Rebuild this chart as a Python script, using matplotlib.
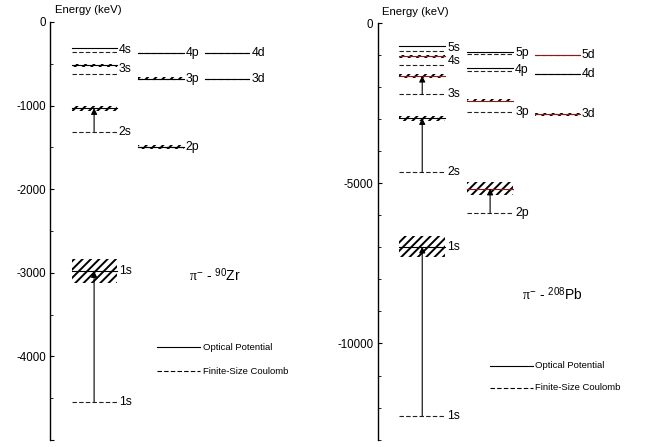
import matplotlib
matplotlib.use("Agg")
import matplotlib.pyplot as plt
from matplotlib.ticker import MultipleLocator, FuncFormatter

plt.rcParams['font.family'] = ['Liberation Sans', 'DejaVu Sans']
plt.rcParams['mathtext.fontset'] = 'custom'
plt.rcParams['mathtext.rm'] = 'Liberation Serif'
plt.rcParams['mathtext.sf'] = 'Liberation Sans'
plt.rcParams['mathtext.it'] = 'Liberation Serif:italic'
plt.rcParams['hatch.linewidth'] = 1.4

# pi- 90Zr levels (keV): finite-size Coulomb, optical potential, width
zr_states = ['1s', '2s', '3s', '4s', '2p', '3p', '4p', '3d', '4d']
zr_column = [0, 0, 0, 0, 1, 1, 1, 2, 2]
zr_fsc = [-4543, -1310, -617, -357, -1499, -677, -376, -677, -376]
zr_op = [-2980, -1030, -517, -316, -1499, -677, -376, -677, -376]
zr_width = [290, 58, 40, 0, 48, 40, 0, 0, 0]
zr_label = ['both', 'fsc', 'mid', 'mid', 'mid', 'mid', 'mid', 'mid', 'mid']
zr_arrows = ['1s', '2s']

# pi- 208Pb levels (keV)
pb_states = ['1s', '2s', '3s', '4s', '5s', '2p', '3p', '4p', '5p', '3d', '4d', '5d']
pb_column = [0, 0, 0, 0, 0, 1, 1, 1, 1, 2, 2, 2]
pb_fsc = [-12262, -4656, -2219, -1325, -866, -5937, -2763, -1510, -969, -2844, -1594, -1012]
pb_op = [-6981, -2969, -1647, -1043, -709, -5169, -2419, -1406, -906, -2844, -1594, -1012]
pb_width = [650, 165, 115, 100, 0, 415, 120, 0, 0, 90, 0, 0]
pb_label = ['both', 'fsc', 'fsc', 'mid', 'mid', 'fsc', 'fsc', 'mid', 'mid', 'mid', 'fsc', 'mid']
pb_arrows = ['1s', '2s', '3s', '2p']
pb_red = ['4s', '3s', '3p', '3d', '2p', '5d']

columns = [(0.77, 2.38), (3.16, 4.77), (5.55, 7.12)]
dash = (0, (4, 2))
red = '#8b1a1a'


def draw_levels(ax, states, column, fsc, op, width, label, arrows, red_states=()):
    for i, st in enumerate(states):
        x0, x1 = columns[column[i]]
        xc = 0.5 * (x0 + x1)
        ax.plot([x0, x1], [fsc[i], fsc[i]], color='#222222', lw=0.8, ls=dash)
        if width[i] > 0:
            lo = op[i] - width[i] / 2
            hi = op[i] + width[i] / 2
            ax.fill_between([x0, x1], [lo, lo], [hi, hi], facecolor='none',
                            edgecolor='black', hatch='////', linewidth=0)
        c = red if st in red_states else 'black'
        ax.plot([x0, x1], [op[i], op[i]], color=c, lw=0.8)
        if st in arrows:
            ax.annotate('', xy=(xc, op[i]), xytext=(xc, fsc[i]),
                        arrowprops=dict(arrowstyle='-|>', color='black', lw=0.8,
                                        mutation_scale=9, shrinkA=0, shrinkB=0))
        if label[i] == 'both':
            ys = [op[i], fsc[i]]
        elif label[i] == 'fsc':
            ys = [fsc[i]]
        else:
            ys = [0.5 * (op[i] + fsc[i])]
        for y in ys:
            ax.text(x1 + 0.08, y, st, fontsize=8.8, ha='left', va='center')


def draw_legend(ax, x0, x1, y_op, y_fsc):
    ax.plot([x0, x1], [y_op, y_op], color='black', lw=0.8)
    ax.plot([x0, x1], [y_fsc, y_fsc], color='black', lw=0.8, ls=dash)
    ax.text(x1 + 0.1, y_op, 'Optical Potential', fontsize=6.8, va='center')
    ax.text(x1 + 0.1, y_fsc, 'Finite-Size Coulomb', fontsize=6.8, va='center')


def style_axis(ax, major, minor, hide):
    ax.set_xlim(0, 10)
    for s in ['top', 'right', 'bottom']:
        ax.spines[s].set_visible(False)
    ax.spines['left'].set_linewidth(1.0)
    ax.set_xticks([])
    ax.yaxis.set_major_locator(MultipleLocator(major))
    ax.yaxis.set_minor_locator(MultipleLocator(minor))
    ax.yaxis.set_major_formatter(FuncFormatter(
        lambda v, p: '' if v in hide else '%d' % v))
    ax.tick_params(axis='y', which='major', direction='in', length=3, labelsize=8.3, pad=3)
    ax.tick_params(axis='y', which='minor', direction='in', length=2)
    ax.patch.set_visible(False)


fig = plt.figure(figsize=(6.62, 4.47), dpi=100)

ax1 = fig.add_axes([50 / 662, 1 - 440 / 447, 280 / 662, 418 / 447])
ax1.set_ylim(-5000, 0)
style_axis(ax1, 1000, 500, [-5000])
draw_levels(ax1, zr_states, zr_column, zr_fsc, zr_op, zr_width, zr_label, zr_arrows)
draw_legend(ax1, 3.82, 5.36, -3888, -4175)
ax1.text(5.9, -3026, r'$\mathrm{\pi}^{\mathsf{-}}$ - $^{\mathsf{90}}$Zr', fontsize=10, ha='center', va='center')
fig.text(88 / 662, 1 - 10 / 447, 'Energy (keV)', fontsize=8.2, ha='center', va='center')

ax2 = fig.add_axes([377.5 / 662, 1 - 439.6 / 447, 284 / 662, 416.6 / 447])
ax2.set_ylim(-13000, 0)
style_axis(ax2, 5000, 1000, [])
draw_levels(ax2, pb_states, pb_column, pb_fsc, pb_op, pb_width, pb_label, pb_arrows, pb_red)
draw_legend(ax2, 3.95, 5.46, -10702, -11388)
ax2.text(6.16, -8455, r'$\mathrm{\pi}^{\mathsf{-}}$ - $^{\mathsf{208}}$Pb', fontsize=10, ha='center', va='center')
fig.text(415 / 662, 1 - 12 / 447, 'Energy (keV)', fontsize=8.2, ha='center', va='center')

fig.savefig('out.png', dpi=100)
